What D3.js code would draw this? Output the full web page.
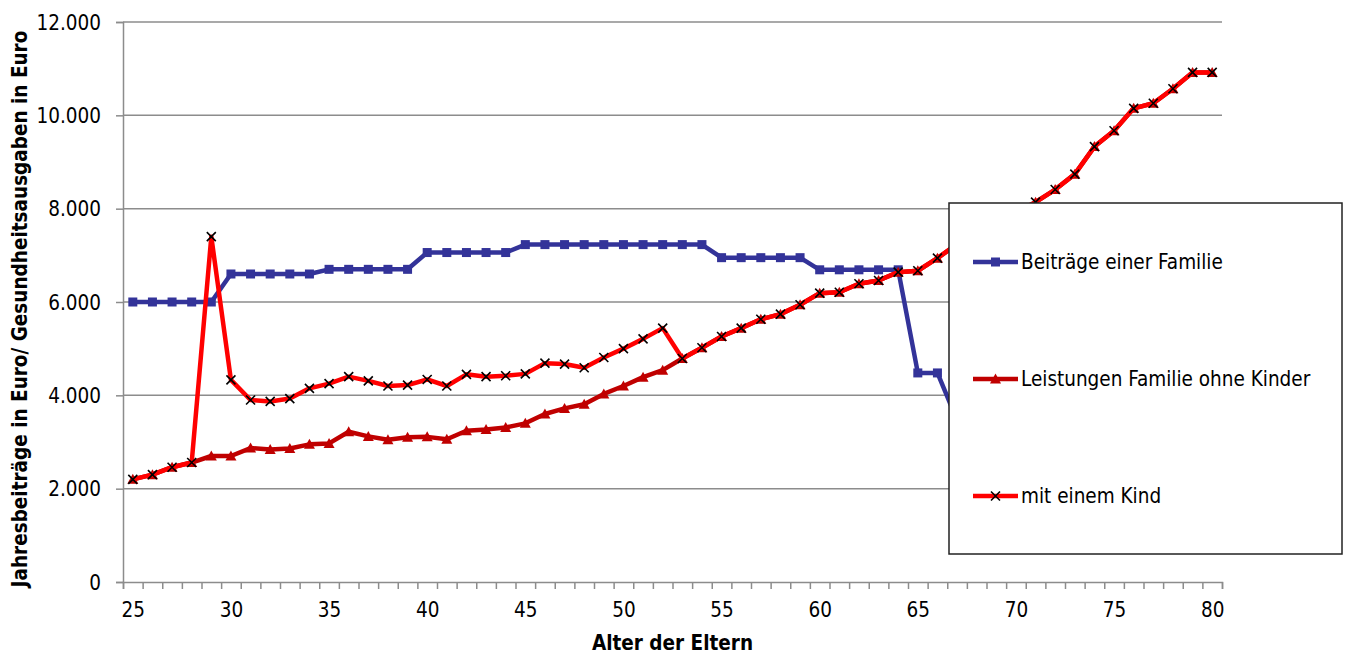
<!DOCTYPE html>
<html>
<head>
<meta charset="utf-8">
<script src="https://cdn.jsdelivr.net/npm/d3@7"></script>
<style>
  body { margin: 0; background: #fff; }
  svg text { font-family: "DejaVu Sans Condensed", "DejaVu Sans", sans-serif; font-stretch: condensed; fill: #000; }
</style>
</head>
<body>
<svg id="chart" width="1349" height="655"></svg>
<script>
// categories: age of the parents
var ages = [25, 26, 27, 28, 29, 30, 31, 32, 33, 34, 35, 36, 37, 38, 39, 40, 41, 42, 43, 44,
  45, 46, 47, 48, 49, 50, 51, 52, 53, 54, 55, 56, 57, 58, 59, 60, 61, 62, 63, 64,
  65, 66, 67, 68, 69, 70, 71, 72, 73, 74, 75, 76, 77, 78, 79, 80];

// Beiträge einer Familie (from 67 on hidden behind the legend, estimated)
var beitraege = [6000, 6000, 6000, 6000, 6000, 6600, 6600, 6600, 6600, 6600,
  6700, 6700, 6700, 6700, 6700, 7060, 7060, 7060, 7060, 7060,
  7230, 7230, 7230, 7230, 7230, 7230, 7230, 7230, 7230, 7230,
  6950, 6950, 6950, 6950, 6950, 6690, 6690, 6690, 6690, 6690,
  4480, 4480, 3470, 3470, 3470, 3470, 3470, 3470, 3470, 3470,
  3470, 3470, 3470, 3470, 3470, 3470];

// Leistungen Familie ohne Kinder
var leistungen = [2200, 2300, 2460, 2560, 2700, 2700, 2870, 2840, 2860, 2950,
  2970, 3220, 3120, 3050, 3100, 3110, 3060, 3240, 3270, 3310,
  3400, 3600, 3720, 3810, 4030, 4200, 4390, 4540, 4790, 5020,
  5260, 5440, 5630, 5740, 5940, 6190, 6210, 6390, 6460, 6640,
  6670, 6940, 7240, 7480, 7700, 7920, 8140, 8410, 8740, 9330,
  9670, 10150, 10260, 10570, 10920, 10920];

// mit einem Kind
var kind = [2200, 2300, 2460, 2560, 7400, 4330, 3900, 3870, 3930, 4150,
  4250, 4400, 4310, 4200, 4220, 4340, 4200, 4450, 4400, 4420,
  4460, 4690, 4670, 4590, 4810, 5000, 5210, 5440, 4790, 5020,
  5260, 5440, 5630, 5740, 5940, 6190, 6210, 6390, 6460, 6640,
  6670, 6940, 7240, 7480, 7700, 7920, 8140, 8410, 8740, 9330,
  9670, 10150, 10260, 10570, 10920, 10920];

var yTicks = [0, 2000, 4000, 6000, 8000, 10000, 12000];
var xLabels = [25, 30, 35, 40, 45, 50, 55, 60, 65, 70, 75, 80];

var seriesNames = ["Beiträge einer Familie", "Leistungen Familie ohne Kinder", "mit einem Kind"];
var seriesColors = ["#333399", "#c00000", "#ff0000"];
var seriesMarkers = ["square", "triangle", "cross"];

var svg = d3.select("#chart");
var plotL = 123, plotR = 1222, plotT = 22, plotB = 582;
var fontSize = "20.5px";

var x = d3.scaleLinear().domain([24.5, 80.5]).range([plotL, plotR]);
var y = d3.scaleLinear().domain([0, 12000]).range([plotB, plotT]);

var de = d3.formatLocale({ decimal: ",", thousands: ".", grouping: [3], currency: ["", " €"] });
var fmt = de.format(",");

// gridlines
svg.append("g")
  .selectAll("line")
  .data(yTicks.slice(1))
  .join("line")
  .attr("x1", plotL).attr("x2", plotR)
  .attr("y1", d => y(d)).attr("y2", d => y(d))
  .attr("stroke", "#8c8c8c").attr("stroke-width", 1.5);

// y axis
var yAxis = svg.append("g")
  .attr("transform", "translate(" + plotL + ",0)")
  .call(d3.axisLeft(y).tickValues(yTicks).tickFormat(fmt).tickSize(7).tickPadding(15));
yAxis.select(".domain").attr("stroke", "#8c8c8c").attr("stroke-width", 1.5);
yAxis.selectAll(".tick line").attr("stroke", "#8c8c8c").attr("stroke-width", 1.5);
yAxis.selectAll("text").style("font-size", fontSize).attr("dy", "0.35em");

// x axis: ticks between categories, labels on categories
var xAxis = svg.append("g")
  .attr("transform", "translate(0," + plotB + ")")
  .call(d3.axisBottom(x).tickValues(d3.range(24.5, 81, 1)).tickFormat("").tickSize(7));
xAxis.select(".domain").attr("stroke", "#8c8c8c").attr("stroke-width", 1.5);
xAxis.selectAll(".tick line").attr("stroke", "#8c8c8c").attr("stroke-width", 1.5);

var xLab = svg.append("g")
  .attr("transform", "translate(0," + plotB + ")")
  .call(d3.axisBottom(x).tickValues(xLabels).tickSize(0).tickPadding(20));
xLab.select(".domain").remove();
xLab.selectAll("text").style("font-size", fontSize);

// axis titles
svg.append("text")
  .attr("x", (plotL + plotR) / 2).attr("y", 650)
  .attr("text-anchor", "middle")
  .style("font-size", fontSize).style("font-weight", "bold")
  .text("Alter der Eltern");

svg.append("text")
  .attr("transform", "translate(27," + ((plotT + plotB) / 2 + 7) + ") rotate(-90)")
  .attr("text-anchor", "middle")
  .style("font-size", fontSize).style("font-weight", "bold")
  .text("Jahresbeiträge in Euro/ Gesundheitsausgaben in Euro");

// markers
function drawMarker(g, type, color) {
  if (type === "square") {
    g.append("rect").attr("x", -4.5).attr("y", -4.5).attr("width", 9).attr("height", 9).attr("fill", color);
  } else if (type === "triangle") {
    g.append("path").attr("d", "M0,-5.5L5.5,4.5L-5.5,4.5Z").attr("fill", color);
  } else {
    g.append("path").attr("d", "M-4.5,-4.5L4.5,4.5M-4.5,4.5L4.5,-4.5")
      .attr("stroke", "#000").attr("stroke-width", 1.6).attr("fill", "none");
  }
}

var allSeries = [beitraege, leistungen, kind];
var line = d3.line().x((d, i) => x(ages[i])).y(d => y(d));

allSeries.forEach(function (vals, s) {
  var g = svg.append("g");
  g.append("path")
    .datum(vals)
    .attr("d", line)
    .attr("fill", "none")
    .attr("stroke", seriesColors[s])
    .attr("stroke-width", 4.5)
    .attr("stroke-linejoin", "round");
  g.selectAll("g.m")
    .data(vals)
    .join("g")
    .attr("class", "m")
    .attr("transform", (d, i) => "translate(" + x(ages[i]) + "," + y(d) + ")")
    .each(function () { drawMarker(d3.select(this), seriesMarkers[s], seriesColors[s]); });
});

// legend
var lg = svg.append("g");
lg.append("rect")
  .attr("x", 949).attr("y", 203).attr("width", 393).attr("height", 351)
  .attr("fill", "#fff").attr("stroke", "#222").attr("stroke-width", 1.5);

var legendY = d3.scalePoint().domain(seriesNames).range([262, 496]);
seriesNames.forEach(function (name, s) {
  var item = lg.append("g").attr("transform", "translate(0," + legendY(name) + ")");
  item.append("line").attr("x1", 973).attr("x2", 1018)
    .attr("stroke", seriesColors[s]).attr("stroke-width", 4.5);
  var m = item.append("g").attr("transform", "translate(995.5,0)");
  drawMarker(m, seriesMarkers[s], seriesColors[s]);
  item.append("text").attr("x", 1021).attr("dy", "0.35em")
    .style("font-size", fontSize).text(name);
});
</script>
</body>
</html>
